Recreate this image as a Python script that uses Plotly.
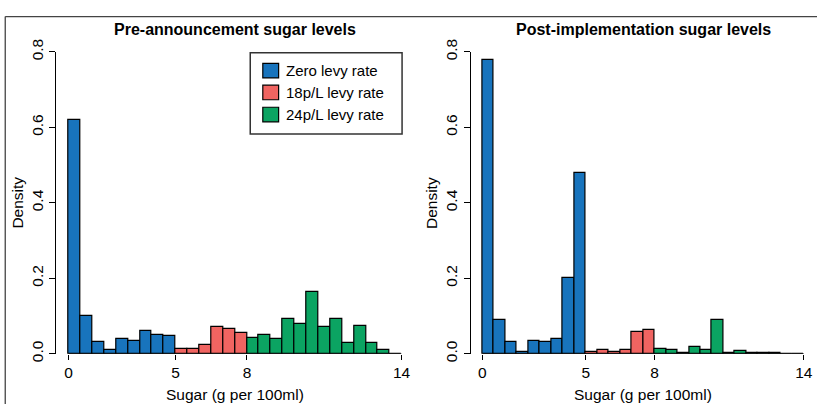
import plotly.graph_objects as go

# ---------------- data ----------------
# histogram bins (equal-width on the drawn axis); axis labels at bin edges
tick_bins = [0, 9, 15, 28]
tick_labels = ["0", "5", "8", "14"]
group_names = ["Zero levy rate", "18p/L levy rate", "24p/L levy rate"]
group_colors = ["#1874BD", "#F06461", "#0BA462"]

# Pre-announcement densities per bin
pre_zero = [0.62, 0.100, 0.030, 0.009, 0.038, 0.034, 0.060, 0.050, 0.048]
pre_18p = [0.014, 0.014, 0.024, 0.070, 0.067, 0.055]
pre_24p = [0.042, 0.049, 0.040, 0.091, 0.080, 0.164, 0.070, 0.091, 0.029,
           0.075, 0.029, 0.010, 0.0]

# Post-implementation densities per bin
post_zero = [0.78, 0.090, 0.030, 0.005, 0.034, 0.030, 0.040, 0.200, 0.480]
post_18p = [0.005, 0.009, 0.005, 0.009, 0.058, 0.062]
post_24p = [0.012, 0.009, 0.002, 0.019, 0.010, 0.090, 0.002, 0.007, 0.002,
            0.001, 0.003, 0.0, 0.0]

titles = ["Pre-announcement sugar levels", "Post-implementation sugar levels"]
x_title = "Sugar (g per 100ml)"
y_title = "Density"
y_ticks = [0.0, 0.2, 0.4, 0.6, 0.8]

# ---------------- layout helpers ----------------
W, H = 826, 412
FONT = "Liberation Sans, Arial, Helvetica, sans-serif"


def px(x):
    return x / W


def py(y):
    return 1 - y / H


panels = [
    dict(groups=[pre_zero, pre_18p, pre_24p], xdom=(57, 406), zero_px=69.3,
         title_x=238, ytitle_x=18),
    dict(groups=[post_zero, post_18p, post_24p], xdom=(475.7, 812.7), zero_px=487.7,
         title_x=650.2, ytitle_x=437),
]

fig = go.Figure()
shapes = []
annotations = []

for p_i, p in enumerate(panels):
    xa = "x" if p_i == 0 else "x2"
    ya = "y" if p_i == 0 else "y2"
    start = 0
    for g_i, vals in enumerate(p["groups"]):
        centers = [start + i + 0.5 for i in range(len(vals))]
        start += len(vals)
        fig.add_trace(go.Bar(
            x=centers, y=vals, width=1.0,
            marker=dict(color=group_colors[g_i], line=dict(color="black", width=1.2)),
            name=group_names[g_i], showlegend=False,
            xaxis=xa, yaxis=ya,
        ))
    nbins = start
    bin_px = (p["xdom"][1] - p["zero_px"]) / nbins
    left = -(p["zero_px"] - p["xdom"][0]) / bin_px
    ax = dict(
        domain=[px(p["xdom"][0]), px(p["xdom"][1])],
        range=[left, nbins + 0.001],
        tickvals=tick_bins, ticktext=tick_labels,
        ticks="outside", ticklen=5, tickwidth=1, tickcolor="black",
        showline=False, showgrid=False, zeroline=False,
        tickfont=dict(family=FONT, size=15.5, color="black"),
        fixedrange=True,
    )
    ay = dict(
        domain=[py(359), py(41)], range=[0, 0.8],
        tickvals=y_ticks, ticktext=[f"{v:.1f}" for v in y_ticks],
        tickangle=-90,
        ticks="outside", ticklen=6, tickwidth=1, tickcolor="black",
        showline=True, linecolor="black", linewidth=1,
        showgrid=False, zeroline=False,
        tickfont=dict(family=FONT, size=15.5, color="black"),
        anchor=xa, fixedrange=True,
    )
    ax["anchor"] = ya
    if p_i == 0:
        fig.update_layout(xaxis=ax, yaxis=ay)
    else:
        fig.update_layout(xaxis2=ax, yaxis2=ay)

    # x axis line from first to last labelled tick (R style)
    shapes.append(dict(type="line", xref=xa, yref=ya, x0=0, x1=nbins, y0=0, y1=0,
                       line=dict(color="black", width=1)))
    annotations.append(dict(text=f"<b>{titles[p_i]}</b>", xref="paper", yref="paper",
                            x=px(p["title_x"]), y=py(17.5), xanchor="center", yanchor="middle",
                            showarrow=False, font=dict(family=FONT, size=16, color="black")))
    annotations.append(dict(text=x_title, xref="paper", yref="paper",
                            x=px(p["title_x"]), y=py(401.5), xanchor="center", yanchor="middle",
                            showarrow=False, font=dict(family=FONT, size=15.5, color="black")))
    annotations.append(dict(text=y_title, xref="paper", yref="paper", textangle=-90,
                            x=px(p["ytitle_x"]), y=py(200), xanchor="center", yanchor="middle",
                            showarrow=False, font=dict(family=FONT, size=15.5, color="black")))

# manual legend (R style box)
shapes.append(dict(type="rect", xref="paper", yref="paper",
                   x0=px(253), x1=px(406.5), y0=py(127.5), y1=py(42),
                   line=dict(color="#333333", width=1.5), fillcolor="white", layer="above"))
row_y = [60.7, 83.7, 107]
for i, name in enumerate(group_names):
    shapes.append(dict(type="rect", xref="paper", yref="paper",
                       x0=px(265.7), x1=px(281.7), y0=py(row_y[i] + 7.7), y1=py(row_y[i] - 7.7),
                       line=dict(color="black", width=1.2), fillcolor=group_colors[i],
                       layer="above"))
    annotations.append(dict(text=name, xref="paper", yref="paper",
                            x=px(287.5), y=py(row_y[i]), xanchor="left", yanchor="middle",
                            showarrow=False, font=dict(family=FONT, size=15, color="black")))

# figure frame (top and left edges visible)
shapes.append(dict(type="line", xref="paper", yref="paper", x0=px(5.3), x1=1,
                   y0=py(3.8), y1=py(3.8), line=dict(color="#444444", width=1.3)))
shapes.append(dict(type="line", xref="paper", yref="paper", x0=px(5.3), x1=px(5.3),
                   y0=0, y1=py(3.8), line=dict(color="#444444", width=1.3)))

fig.update_layout(
    width=W, height=H,
    margin=dict(l=0, r=0, t=0, b=0),
    paper_bgcolor="white", plot_bgcolor="white",
    barmode="overlay", bargap=0,
    showlegend=False,
    shapes=shapes, annotations=annotations,
    font=dict(family=FONT, color="black"),
)

fig.write_html("out.html", config={"displayModeBar": False},
               post_script="document.body.style.margin='0';document.body.style.overflow='hidden';")
